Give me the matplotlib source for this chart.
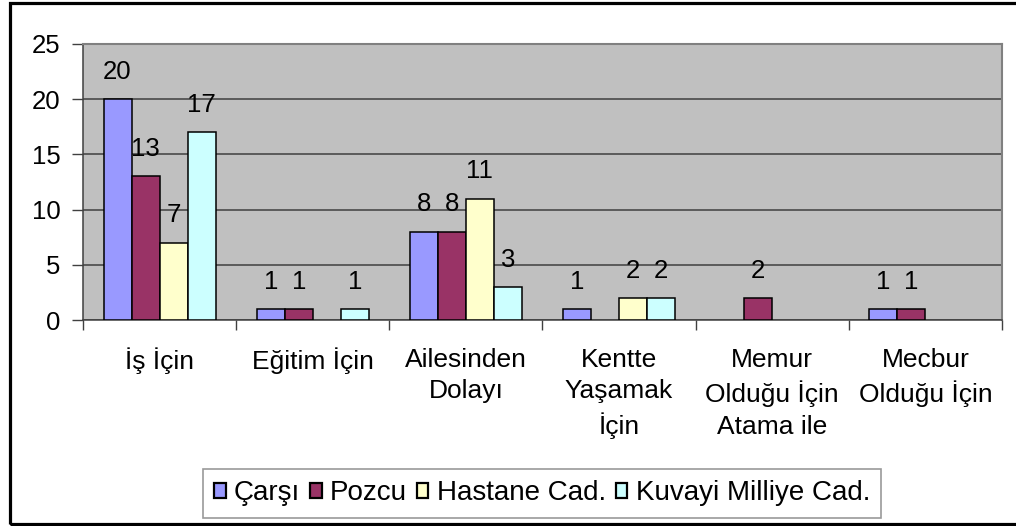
import matplotlib
matplotlib.use("Agg")
import matplotlib.pyplot as plt
import numpy as np
from matplotlib.patches import Rectangle

plt.rcParams['font.family'] = ['Liberation Sans', 'DejaVu Sans']

categories = ["İş İçin", "Eğitim İçin", "Ailesinden\nDolayı", "Kentte\nYaşamak\nİçin",
              "Memur\nOlduğu İçin\nAtama ile", "Mecbur\nOlduğu İçin"]
series_names = ["Çarşı", "Pozcu", "Hastane Cad.", "Kuvayi Milliye Cad."]
carsi = [20, 1, 8, 1, 0, 1]
pozcu = [13, 1, 8, 0, 2, 1]
hastane = [7, 0, 11, 2, 0, 0]
kuvayi = [17, 1, 3, 2, 0, 0]
yticks = [0, 5, 10, 15, 20, 25]

series = [carsi, pozcu, hastane, kuvayi]
colors = ["#9999FF", "#993366", "#FFFFCC", "#CCFFFF"]

fig = plt.figure(figsize=(10.16, 5.26), dpi=100)
ax = fig.add_axes([83/1016, 1-320/526, (1002-83)/1016, (320-44)/526])
ax.set_facecolor("#C0C0C0")

x = np.arange(len(categories))
w = 0.183
handles = []
for i, (vals, c, name) in enumerate(zip(series, colors, series_names)):
    pos = x + (i - 1.5) * w
    b = ax.bar(pos, vals, width=w, color=c, edgecolor="black", linewidth=1.1,
               label=name, zorder=3)
    handles.append(b)
    for rect, v in zip(b.patches, vals):
        if v == 0:
            rect.set_visible(False)
    for p, v in zip(pos, vals):
        if v != 0:
            ax.annotate(str(v), (p, v), xytext=(0, 11), textcoords="offset points",
                        ha="center", va="bottom", fontsize=18.5, zorder=4)

ax.set_xlim(-0.5, len(categories) - 0.5)
ax.set_ylim(0, 25)
ax.set_yticks(yticks)
ax.set_yticklabels([str(t) for t in yticks], fontsize=18.5)
ax.yaxis.grid(True, color="#404040", linewidth=1.1, zorder=0)
ax.set_axisbelow(True)

ax.set_xticks(x)
ax.set_xticklabels(categories, fontsize=19, linespacing=1.4, va="top")
ax.set_xticks(np.arange(-0.5, len(categories)), minor=True)
ax.tick_params(axis="x", which="major", length=0, pad=20)
ax.tick_params(axis="x", which="minor", length=7, width=1, color="#404040")
ax.tick_params(axis="y", length=8, width=1, color="#404040", pad=8)

for s in ["top", "right"]:
    ax.spines[s].set_color("#808080")
    ax.spines[s].set_linewidth(1.5)
for s in ["left", "bottom"]:
    ax.spines[s].set_color("#404040")
    ax.spines[s].set_linewidth(1.1)

leg = fig.legend(handles=handles, labels=series_names, loc="center",
                 bbox_to_anchor=(542/1016, 1-493.5/526), ncol=4, fontsize=20,
                 frameon=True, fancybox=False, edgecolor="#808080",
                 handlelength=0.42, handleheight=0.42, handletextpad=0.3,
                 columnspacing=0.35, borderpad=0.4, borderaxespad=0)
leg.get_frame().set_linewidth(1.2)
for h in leg.legend_handles:
    h.set_linewidth(1.6)

fig.patches.append(Rectangle((9.5/1016, 2.5/526), (1020-9.5)/1016, (523.5-2.5)/526,
                             transform=fig.transFigure, fill=False,
                             edgecolor="black", linewidth=2.3))

fig.savefig("out.png", dpi=100)
